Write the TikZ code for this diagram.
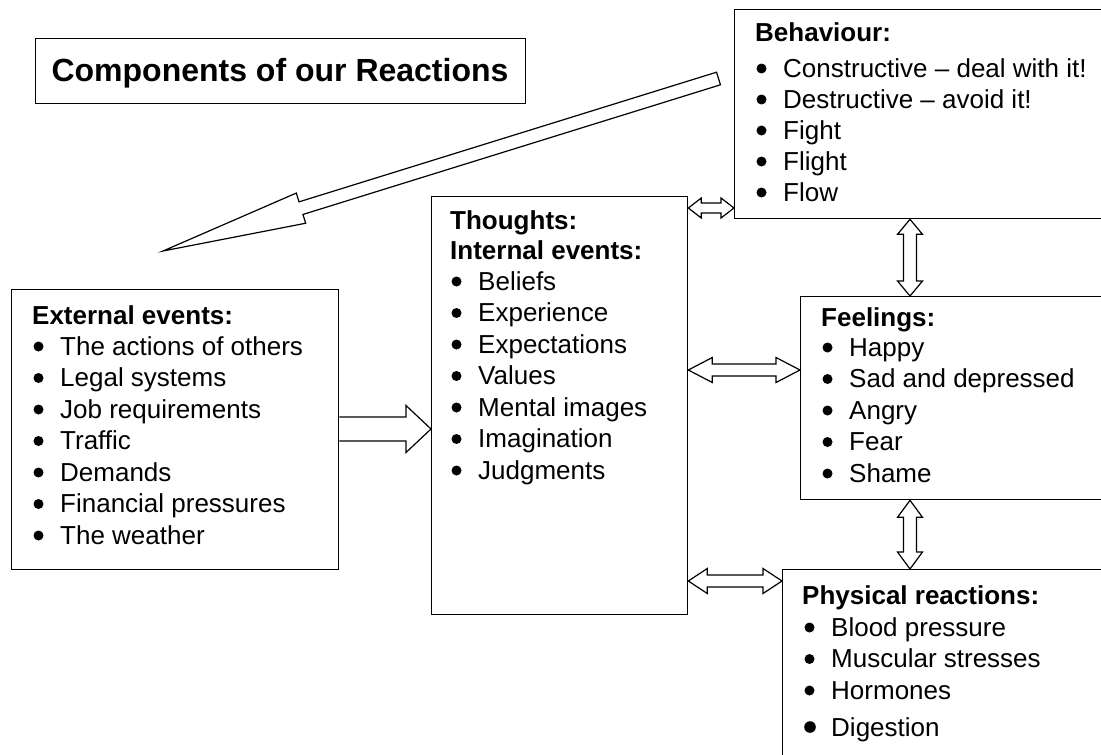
\documentclass[tikz,border=0pt]{standalone}
\usepackage{fontspec}
\setmainfont{Liberation Sans}
\usetikzlibrary{calc}
\tikzset{
  box/.style={draw, line width=1.3pt, inner sep=0pt, anchor=north west, rectangle},
  txt/.style={inner sep=0pt, anchor=base west, font=\fontsize{26}{31}\selectfont},
  blk/.style={draw, line width=1.2pt, fill=white, line join=miter},
  dot/.style={fill=black},
}
\newcommand\bul{\hspace*{28pt}}
\newcommand\itemlist[5]{%
  \foreach \t [count=\i from 0] in {#5} {%
    \node[txt] (#1\i) at (#2, #3+\i*#4) {\bul\t};
    \fill[dot] (#1\i.base west) ++(6.5,-8.5) circle [radius=5pt];}}
% double-headed horizontal block arrow: #1 left tip, #2 right tip, #3 shaft half, #4 head half, #5 head length
\newcommand\harrow[5]{%
  \draw[blk] let \p1=(#1), \p2=(#2) in
    (\x1,\y1) -- (\x1+#5,\y1+#4) -- (\x1+#5,\y1+#3) -- (\x2-#5,\y1+#3) -- (\x2-#5,\y1+#4)
    -- (\x2,\y1) -- (\x2-#5,\y1-#4) -- (\x2-#5,\y1-#3) -- (\x1+#5,\y1-#3) -- (\x1+#5,\y1-#4) -- cycle;}
% double-headed vertical block arrow: #1 top tip, #2 bottom tip
\newcommand\varrow[5]{%
  \draw[blk] let \p1=(#1), \p2=(#2) in
    (\x1,\y1) -- (\x1+#4,\y1-#5) -- (\x1+#3,\y1-#5) -- (\x1+#3,\y2+#5) -- (\x1+#4,\y2+#5)
    -- (\x1,\y2) -- (\x1-#4,\y2+#5) -- (\x1-#3,\y2+#5) -- (\x1-#3,\y1-#5) -- (\x1-#4,\y1-#5) -- cycle;}
\begin{document}
\begin{tikzpicture}[x=1pt,y=-1pt]
\useasboundingbox (0,0) rectangle (1101,755);

% boxes
\node[box, minimum width=490pt, minimum height=65pt] (tbox) at (35,38) {};
\node[box, minimum width=390pt, minimum height=209pt] (beh) at (734,9) {};
\node[box, minimum width=256pt, minimum height=418pt] (th) at (431,196) {};
\node[box, minimum width=327pt, minimum height=280pt] (ext) at (11,289) {};
\node[box, minimum width=320pt, minimum height=203pt] (feel) at (800,296) {};
\node[box, minimum width=340pt, minimum height=200pt] (phys) at (782,569) {};

% title
\node[txt, anchor=base, font=\fontsize{32}{36}\selectfont\bfseries] (title) at (280,81) {Components of our Reactions};

% behaviour
\node[txt] (behh) at (755,41) {\bfseries Behaviour:};
\itemlist{beh}{755}{77}{31}{Constructive – deal with it!,Destructive – avoid it!,Fight,Flight,Flow}

% thoughts
\node[txt] (thh1) at (450,229) {\bfseries Thoughts:};
\node[txt] (thh2) at (450,259) {\bfseries Internal events:};
\itemlist{thi}{450}{290}{31.5}{Beliefs,Experience,Expectations,Values,Mental images,Imagination,Judgments}

% external
\node[txt] (exth) at (32,324) {\bfseries External events:};
\itemlist{exti}{32}{355}{31.5}{The actions of others,Legal systems,Job requirements,Traffic,Demands,Financial pressures,The weather}

% feelings
\node[txt] (feelh) at (821,326) {\bfseries Feelings:};
\itemlist{feeli}{821}{356}{31.5}{Happy,Sad and depressed,Angry,Fear,Shame}

% physical
\node[txt] (physh) at (802,604) {\bfseries Physical reactions:};
\itemlist{physi}{803}{636}{31.5}{Blood pressure,Muscular stresses,Hormones}
\node[txt] (physd) at (803,736) {\bul Digestion};
\fill[dot] (physd.base west) ++(7,-9) circle [radius=5.8pt];

% connectors
\coordinate (tail) at (718.5,78.5);
\coordinate (tip) at (163,251);
\coordinate (hb) at ($(tip)!144.5pt!(tail)$);
\draw[blk] ($(tail)!6.6pt!90:(tip)$) -- ($(hb)!6.6pt!-90:(tail)$) -- ($(hb)!15.8pt!-90:(tail)$)
  -- (tip) -- ($(hb)!15.8pt!90:(tail)$) -- ($(hb)!6.6pt!90:(tail)$) -- ($(tail)!6.6pt!-90:(tip)$) -- cycle;

% external -> thoughts
\draw[blk] let \p1=(ext.east |- 0,429), \p2=(th.west |- 0,429) in
  (\x1,\y1+12) -- (\x2-25,\y1+12) -- (\x2-25,\y1+23.5) -- (\x2,\y1) -- (\x2-25,\y1-23.5)
  -- (\x2-25,\y1-12) -- (\x1,\y1-12);

\harrow{th.east |- 0,208}{beh.west |- 0,208}{5}{10}{13}
\harrow{th.east |- 0,370}{feel.west |- 0,370}{6}{12.5}{24}
\harrow{th.east |- 0,581}{phys.west |- 0,581}{6}{12.5}{19}
\varrow{beh.south -| 910,0}{feel.north -| 910,0}{6.5}{12.5}{15}
\varrow{feel.south -| 910,0}{phys.north -| 910,0}{6.5}{12.5}{17}
\end{tikzpicture}
\end{document}
